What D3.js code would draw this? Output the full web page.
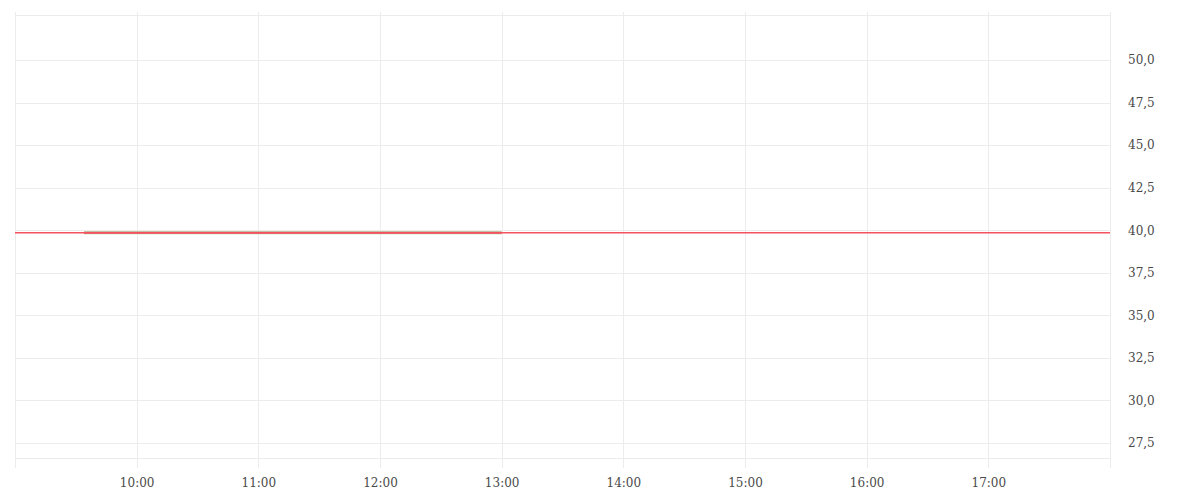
<!DOCTYPE html>
<html>
<head>
<meta charset="utf-8">
<script src="https://cdn.jsdelivr.net/npm/d3@7"></script>
<style>
    body { margin: 0; background: #fff; }
    #chartContainer { width: 1200px; height: 500px; }
    .tick text { font-family: "DejaVu Serif", serif; font-size: 12px; fill: #4a4a4a; }
</style>
</head>
<body>
<div id="chartContainer"></div>
<script>
// session window
var dayStart = '09:00',
    dayEnd = '18:00';

// price series (flat during the morning)
var times = ['09:34', '10:00', '10:30', '11:00', '11:30', '12:00', '12:30', '13:00'];
var prices = [39.85, 39.85, 39.85, 39.85, 39.85, 39.85, 39.85, 39.85];

// previous close reference
var refPrice = 39.85;

// axis ticks
var xTicks = ['10:00', '11:00', '12:00', '13:00', '14:00', '15:00', '16:00', '17:00'];
var yTicks = [27.5, 30, 32.5, 35, 37.5, 40, 42.5, 45, 47.5, 50];
var yDomain = [26.62, 52.64];

var parse = d3.timeParse('%H:%M');

var width = 1200,
    height = 500,
    plotLeft = 15,
    plotRight = 1110,
    plotTop = 15,
    plotBottom = 458,
    gridcolor = '#ececec',
    linecolor = '#f4525f',
    seriescolor = '#9ddba8';

var svg = d3.select('#chartContainer').append('svg')
    .attr('width', width)
    .attr('height', height);

var x = d3.scaleTime()
    .domain([parse(dayStart), parse(dayEnd)])
    .range([plotLeft, plotRight]);

var y = d3.scaleLinear()
    .domain(yDomain)
    .range([plotBottom, plotTop]);

var fmt = function (d) { return d3.format('.1f')(d).replace('.', ','); };

// horizontal grid
svg.append('g').selectAll('line')
    .data(yTicks.concat(yDomain))
    .enter().append('line')
    .attr('x1', plotLeft).attr('x2', plotRight)
    .attr('y1', function (d) { return Math.round(y(d)) + 0.5; })
    .attr('y2', function (d) { return Math.round(y(d)) + 0.5; })
    .attr('stroke', gridcolor);

// vertical grid, slightly past the frame
var vlines = [parse(dayStart)].concat(xTicks.map(parse), [parse(dayEnd)]);
svg.append('g').selectAll('line')
    .data(vlines)
    .enter().append('line')
    .attr('x1', function (d) { return Math.round(x(d)) + 0.5; })
    .attr('x2', function (d) { return Math.round(x(d)) + 0.5; })
    .attr('y1', plotTop - 3).attr('y2', plotBottom + 10)
    .attr('stroke', gridcolor);

// axes (labels only)
var xAxis = svg.append('g')
    .attr('transform', 'translate(0,' + (plotBottom + 10) + ')')
    .call(d3.axisBottom(x)
        .tickValues(xTicks.map(parse))
        .tickFormat(d3.timeFormat('%H:%M'))
        .tickSize(0).tickPadding(10));
xAxis.select('.domain').remove();

var yAxis = svg.append('g')
    .attr('transform', 'translate(' + (plotRight + 18) + ',0)')
    .call(d3.axisRight(y)
        .tickValues(yTicks)
        .tickFormat(fmt)
        .tickSize(0).tickPadding(0));
yAxis.select('.domain').remove();

// price series: light green halo with the red price line on top
var line = d3.line()
    .x(function (d, i) { return x(parse(times[i])); })
    .y(function (d) { return y(d); });

svg.append('path')
    .datum(prices)
    .attr('fill', 'none')
    .attr('stroke', seriescolor)
    .attr('stroke-width', 3.2)
    .attr('d', line);

svg.append('path')
    .datum(prices)
    .attr('fill', 'none')
    .attr('stroke', linecolor)
    .attr('stroke-width', 2)
    .attr('d', line);

// reference line
svg.append('line')
    .attr('x1', plotLeft).attr('x2', plotRight)
    .attr('y1', y(refPrice)).attr('y2', y(refPrice))
    .attr('stroke', linecolor)
    .attr('stroke-width', 1.3);
</script>
</body>
</html>
